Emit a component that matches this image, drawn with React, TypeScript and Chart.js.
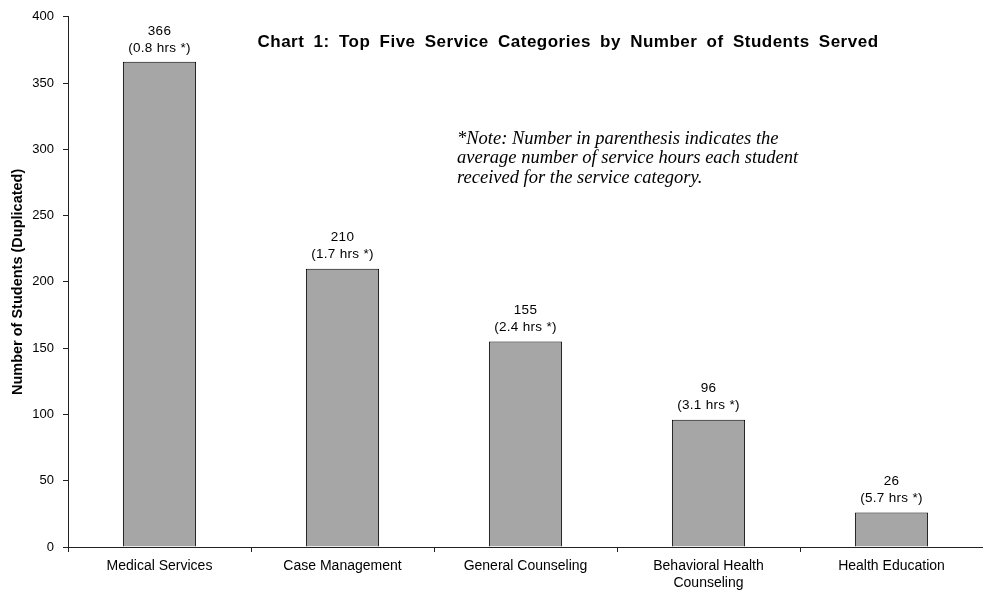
import { useEffect, useRef } from "react";
import { Chart, registerables } from "chart.js";

Chart.register(...registerables);

const categories: (string | string[])[] = [
  "Medical Services",
  "Case Management",
  "General Counseling",
  ["Behavioral Health", "Counseling"],
  "Health Education",
];
const students = [366, 210, 155, 96, 26];
const avgHours = ["0.8", "1.7", "2.4", "3.1", "5.7"];
const yMin = 0;
const yMax = 400;
const yStep = 50;
const chartTitle = "Chart 1: Top Five Service Categories by Number of Students Served";
const yAxisTitle = "Number of Students (Duplicated)";
const noteLines = [
  "*Note: Number in parenthesis indicates the",
  "average number of service hours each student",
  "received for the service category.",
];

const SANS = "'Liberation Sans', Arial, sans-serif";
const SERIF = "'Liberation Serif', 'Times New Roman', serif";

const annotationPlugin = {
  id: "annotations",
  afterDatasetsDraw(chart: any) {
    const ctx = chart.ctx as any;
    const meta = chart.getDatasetMeta(0);
    ctx.save();
    ctx.fillStyle = "#000";
    ctx.textAlign = "center";
    ctx.textBaseline = "middle";
    ctx.font = `13.5px ${SANS}`;
    ctx.letterSpacing = "0.3px";
    meta.data.forEach((bar: any, i: number) => {
      ctx.fillText(String(students[i]), bar.x, bar.y - 31);
      ctx.fillText(`(${avgHours[i]} hrs *)`, bar.x, bar.y - 14);
    });
    // title
    ctx.font = `bold 17px ${SANS}`;
    ctx.letterSpacing = "0.5px";
    ctx.wordSpacing = "4px";
    ctx.textAlign = "center";
    ctx.fillText(chartTitle, 568, 42);
    // note
    ctx.letterSpacing = "0px";
    ctx.wordSpacing = "0px";
    ctx.font = `italic 18.5px ${SERIF}`;
    ctx.textAlign = "left";
    noteLines.forEach((line, i) => {
      ctx.fillText(line, 457, 139 + i * 19.5);
    });
    ctx.restore();
  },
};

export default function App() {
  const ref = useRef<HTMLCanvasElement | null>(null);

  useEffect(() => {
    if (!ref.current) return;
    const axisColor = "#222";
    const chart = new Chart(ref.current, {
      type: "bar",
      data: {
        labels: categories as any,
        datasets: [
          {
            data: students,
            backgroundColor: "#a6a6a6",
            borderColor: "#000",
            borderWidth: 1,
            barPercentage: 0.4,
            categoryPercentage: 1.0,
          },
        ],
      },
      options: {
        responsive: false,
        animation: false,
        devicePixelRatio: 1,
        layout: { padding: { top: 13, right: 0, left: 0, bottom: 0 } },
        plugins: {
          legend: { display: false },
          tooltip: { enabled: false },
          title: { display: false },
        },
        scales: {
          x: {
            type: "category",
            grid: {
              display: true,
              drawOnChartArea: false,
              offset: true,
              tickLength: 5,
              color: axisColor,
            },
            border: { display: true, color: axisColor, width: 1 },
            ticks: {
              color: "#000",
              font: { family: SANS, size: 14 },
              padding: 6,
              maxRotation: 0,
              autoSkip: false,
            },
            afterFit: (s: any) => {
              s.height = 43;
            },
          },
          y: {
            min: yMin,
            max: yMax,
            grid: {
              display: true,
              drawOnChartArea: false,
              tickLength: 5,
              color: axisColor,
            },
            border: { display: true, color: axisColor, width: 1 },
            ticks: {
              stepSize: yStep,
              color: "#000",
              font: { family: SANS, size: 13 },
              padding: 9,
            },
            title: {
              display: true,
              text: yAxisTitle,
              color: "#000",
              font: { family: SANS, size: 14.5, weight: "bold" },
              padding: { top: 9, bottom: 0 },
            },
            afterFit: (s: any) => {
              s.width = 68;
            },
          },
        },
      },
      plugins: [annotationPlugin],
    });
    return () => chart.destroy();
  }, []);

  return (
    <div style={{ position: "absolute", left: 0, top: 0, width: 983, height: 590, background: "#fff" }}>
      <canvas ref={ref} width={983} height={590} style={{ width: 983, height: 590, display: "block" }} />
    </div>
  );
}
